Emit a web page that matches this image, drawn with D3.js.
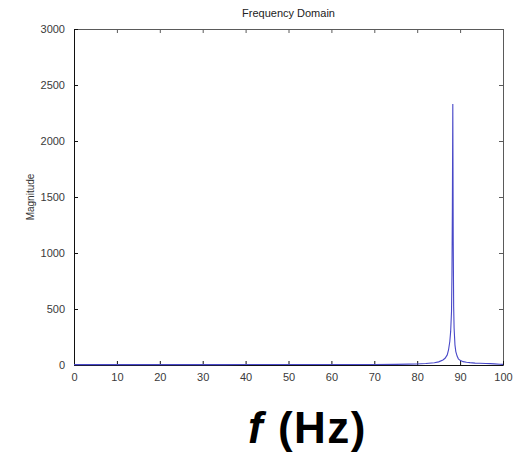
<!DOCTYPE html>
<html>
<head>
<meta charset="utf-8">
<script src="https://cdn.jsdelivr.net/npm/d3@7"></script>
<style>
  html, body { margin: 0; padding: 0; background: #fff; }
  svg { display: block; }
</style>
</head>
<body>
<svg id="chart" width="521" height="452"></svg>
<script>
// Spectrum samples: frequency (Hz) and FFT magnitude
const freqs = [0, 5, 10, 15, 20, 25, 30, 35, 40, 45, 50, 55, 60, 65, 70, 75, 78, 80, 82, 84, 85, 86, 86.5, 87, 87.3, 87.6, 87.8, 88.0, 88.1, 88.2, 88.3, 88.4, 88.5, 88.6, 88.8, 89.0, 89.3, 89.6, 90, 90.7, 91.5, 92.3, 93.5, 94.6, 96, 97, 98, 99.3, 100];
const magnitudes = [3, 3, 3, 3, 3, 3, 3, 3, 4, 4, 4, 4, 4, 5, 5, 6, 8, 9, 13, 20, 28, 45, 60, 90, 134, 210, 300, 480, 800, 1410, 2330, 1100, 520, 330, 180, 120, 80, 55, 42, 30, 25, 21, 17, 15, 13, 12, 10, 7, 6];

const xTicks = [0, 10, 20, 30, 40, 50, 60, 70, 80, 90, 100];
const yTicks = [0, 500, 1000, 1500, 2000, 2500, 3000];

const titleText = "Frequency Domain";
const yLabelText = "Magnitude";

const svg = d3.select("#chart");
const plot = { left: 74, right: 503, top: 29, bottom: 365 };

const x = d3.scaleLinear().domain([0, 100]).range([plot.left, plot.right]);
const y = d3.scaleLinear().domain([0, 3000]).range([plot.bottom, plot.top]);

const tickFont = "Liberation Sans, Arial, sans-serif";
const tickLen = 4;
const plain = d3.format("d");

// Inward ticks on all four sides
const axisBottom = d3.axisBottom(x).tickValues(xTicks).tickFormat(plain).tickSizeInner(-tickLen).tickSizeOuter(0).tickPadding(8);
const axisTop = d3.axisTop(x).tickValues(xTicks).tickSizeInner(-tickLen).tickSizeOuter(0).tickFormat("");
const axisLeft = d3.axisLeft(y).tickValues(yTicks).tickFormat(plain).tickSizeInner(-tickLen).tickSizeOuter(0).tickPadding(9);
const axisRight = d3.axisRight(y).tickValues(yTicks).tickSizeInner(-tickLen).tickSizeOuter(0).tickFormat("");

function styleAxis(g, stroke) {
  g.select(".domain").attr("stroke", stroke).attr("stroke-width", 1);
  g.selectAll(".tick line").attr("stroke", stroke).attr("stroke-width", 1);
  g.selectAll(".tick text")
    .attr("fill", "#3a3a3a")
    .style("font-family", tickFont)
    .style("font-size", "11px");
}

svg.append("g").attr("transform", `translate(0,${plot.top})`).call(axisTop).call(g => styleAxis(g, "#5a5a5a"));
svg.append("g").attr("transform", `translate(${plot.right},0)`).call(axisRight).call(g => styleAxis(g, "#5a5a5a"));
svg.append("g").attr("transform", `translate(0,${plot.bottom})`).call(axisBottom).call(g => styleAxis(g, "#111"));
svg.append("g").attr("transform", `translate(${plot.left},0)`).call(axisLeft).call(g => styleAxis(g, "#111"));

// Spectrum line
const line = d3.line()
  .x((d, i) => x(freqs[i]))
  .y(d => y(d));

svg.append("path")
  .datum(magnitudes)
  .attr("fill", "none")
  .attr("stroke", "#4848c8")
  .attr("stroke-width", 1.1)
  .attr("d", line);

// Title
svg.append("text")
  .attr("x", (plot.left + plot.right) / 2)
  .attr("y", 17)
  .attr("text-anchor", "middle")
  .attr("fill", "#222")
  .style("font-family", tickFont)
  .style("font-size", "11px")
  .text(titleText);

// Y axis label
svg.append("text")
  .attr("transform", `translate(34,${(plot.top + plot.bottom) / 2}) rotate(-90)`)
  .attr("text-anchor", "middle")
  .attr("fill", "#333")
  .style("font-family", tickFont)
  .style("font-size", "10px")
  .text(yLabelText);

// Large x axis label
const xl = svg.append("text")
  .attr("x", 248)
  .attr("y", 443)
  .attr("fill", "#000")
  .style("font-family", "Liberation Sans, Arial, sans-serif")
  .style("font-weight", "bold")
  .style("font-size", "44px")
  .style("letter-spacing", "1.5px");
xl.append("tspan").style("font-style", "italic").text("f");
xl.append("tspan").text(" (Hz)");
</script>
</body>
</html>
